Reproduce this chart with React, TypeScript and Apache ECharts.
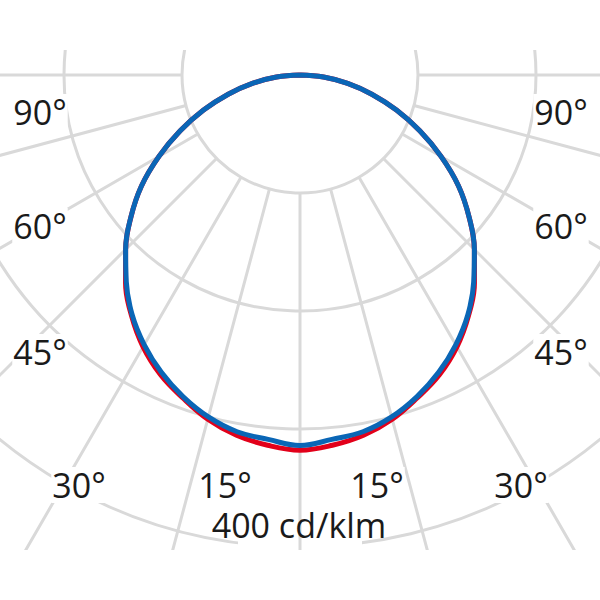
import React, { useEffect, useRef } from 'react';
import * as echarts from 'echarts';

// Gamma angles (degrees from nadir) of the measured intensities
const ANGLES = [0, 5, 10, 15, 20, 25, 30, 35, 40, 45, 50, 55, 60, 65, 70, 75, 80, 85, 90];
// Luminous intensity in cd/klm, C0-C180 plane (red) and C90-C270 plane (blue)
const C0_C180 = [318, 315, 310, 302, 291, 280, 266, 249, 230, 209, 187, 164, 138, 112, 87, 63, 41, 20, 0];
const C90_C270 = [314, 310, 307, 300, 290, 278, 264, 248, 229, 209, 187, 164, 138, 112, 87, 63, 41, 20, 0];
// Grid rings (cd/klm)
const RING_MIN = 100;
const RING_STEP = 100;
const RING_MAX_LABEL = 400;
const RING_EXTENT_MAX = 600;
const SCALE_UNIT = 'cd/klm';
// Angle labels
const SIDE_LABELS = ['90°', '60°', '45°'];
const BOTTOM_LABELS = ['30°', '15°'];
const ANGLE_STEP = 15;

// Layout (pixels inside the 600x500 chart div)
const CX = 300;
const CY = 25;
const PX_PER_UNIT = 472 / RING_MAX_LABEL;
const SIDE_Y = [62, 176, 302];
const SIDE_X = [40, 561];
const BOTTOM_Y = 435;
const BOTTOM_X_LEFT = [79, 225];
const BOTTOM_X_RIGHT = [521, 377];

const GRID_COLOR = '#d9d9d9';
const TEXT_COLOR = '#1a1a1a';
const FONT_FAMILY = '"Open Sans", "Noto Sans", sans-serif';

function toCurve(vals: number[]) {
  const left = ANGLES.map((a, i) => [vals[i], a]).reverse();
  const right = ANGLES.slice(1).map((a, i) => [vals[i + 1], -a]);
  return [...left, ...right];
}

function label(text: string, x: number, y: number) {
  return {
    type: 'text',
    x,
    y,
    z: 10,
    style: {
      text,
      fill: TEXT_COLOR,
      fontSize: 34,
      fontFamily: FONT_FAMILY,
      align: 'center',
      verticalAlign: 'middle',
      textAlign: 'center',
      textVerticalAlign: 'middle',
      backgroundColor: '#ffffff',
      padding: [2, 1, 0, 1],
    },
  };
}

export default function App() {
  const ref = useRef<HTMLDivElement>(null);
  useEffect(() => {
    if (!ref.current) return;
    const chart = echarts.init(ref.current, undefined, { renderer: 'svg' });
    const graphics: any[] = [];
    SIDE_LABELS.forEach((t, i) => {
      graphics.push(label(t, SIDE_X[0], SIDE_Y[i]));
      graphics.push(label(t, SIDE_X[1], SIDE_Y[i]));
    });
    BOTTOM_LABELS.forEach((t, i) => {
      graphics.push(label(t, BOTTOM_X_LEFT[i], BOTTOM_Y));
      graphics.push(label(t, BOTTOM_X_RIGHT[i], BOTTOM_Y));
    });
    graphics.push({
      type: 'text',
      x: 299,
      y: 475,
      z: 10,
      style: {
        text: `${RING_MAX_LABEL} ${SCALE_UNIT}`,
        fill: TEXT_COLOR,
        fontSize: 34,
        fontFamily: FONT_FAMILY,
        align: 'center',
        verticalAlign: 'middle',
        textAlign: 'center',
        textVerticalAlign: 'middle',
      },
    });
    // break in the outer ring beneath the scale label
    graphics.push({
      type: 'rect',
      z: 1,
      shape: { x: 238, y: 489, width: 124, height: 12 },
      style: { fill: '#ffffff' },
    });

    const hiddenAxis = {
      axisLine: { show: false },
      axisTick: { show: false },
      axisLabel: { show: false },
      splitLine: { show: false },
    };
    const gridLine = { show: true, lineStyle: { color: GRID_COLOR, width: 3 } };

    chart.setOption({
      animation: false,
      backgroundColor: '#ffffff',
      polar: [
        {
          center: [CX, CY],
          radius: [RING_MIN * PX_PER_UNIT, RING_EXTENT_MAX * PX_PER_UNIT],
        },
        {
          center: [CX, CY],
          radius: [0, RING_MAX_LABEL * PX_PER_UNIT],
        },
      ],
      angleAxis: [
        {
          polarIndex: 0,
          type: 'value',
          min: -180,
          max: 180,
          interval: ANGLE_STEP,
          startAngle: 90,
          clockwise: true,
          z: 2,
          axisLine: { show: false },
          axisTick: { show: false },
          axisLabel: { show: false },
          splitLine: gridLine,
        },
        {
          polarIndex: 1,
          type: 'value',
          min: -180,
          max: 180,
          startAngle: 90,
          clockwise: true,
          ...hiddenAxis,
        },
      ],
      radiusAxis: [
        {
          polarIndex: 0,
          type: 'value',
          min: RING_MIN,
          max: RING_EXTENT_MAX,
          interval: RING_STEP,
          z: 0,
          axisLine: { show: false },
          axisTick: { show: false },
          axisLabel: { show: false },
          splitLine: gridLine,
        },
        {
          polarIndex: 1,
          type: 'value',
          min: 0,
          max: RING_MAX_LABEL,
          ...hiddenAxis,
        },
      ],
      series: [
        {
          type: 'line',
          name: 'C0-C180',
          coordinateSystem: 'polar',
          polarIndex: 1,
          data: toCurve(C0_C180),
          symbol: 'none',
          smooth: 0.4,
          z: 3,
          lineStyle: { color: '#e2001a', width: 5, join: 'round' },
        },
        {
          type: 'line',
          name: 'C90-C270',
          coordinateSystem: 'polar',
          polarIndex: 1,
          data: toCurve(C90_C270),
          symbol: 'none',
          smooth: 0.4,
          z: 4,
          lineStyle: { color: '#0a66b6', width: 5, join: 'round' },
        },
      ],
      graphic: graphics,
    });
    return () => chart.dispose();
  }, []);
  return (
    <div
      ref={ref}
      style={{ position: 'fixed', left: 0, top: 50, width: 600, height: 500 }}
    />
  );
}
